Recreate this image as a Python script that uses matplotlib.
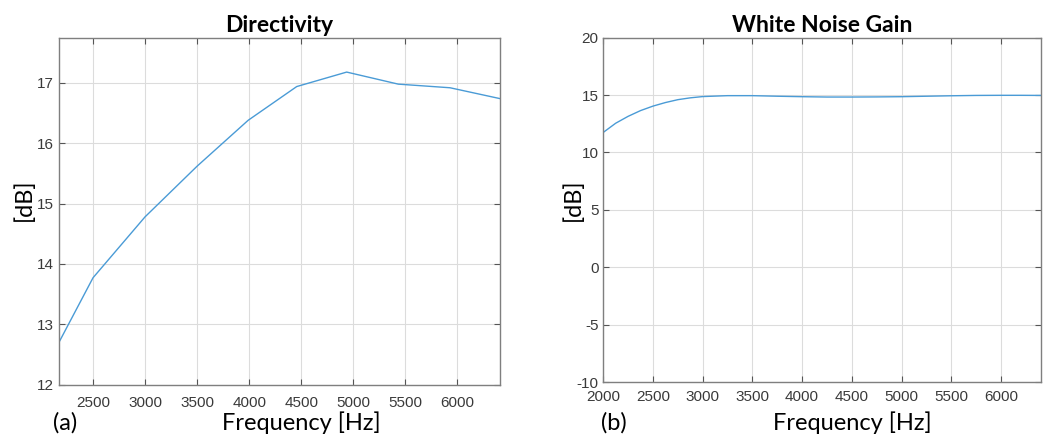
import matplotlib
matplotlib.use("Agg")
import matplotlib.pyplot as plt
import numpy as np

# directivity
freq_dir = [2173, 2500, 3000, 3500, 3990, 4457, 4937, 5433, 5930, 6410]
dir_db = [12.70, 13.77, 14.78, 15.62, 16.38, 16.94, 17.18, 16.98, 16.92, 16.74]

# white noise gain
freq_wng = [2000, 2125, 2250, 2375, 2500, 2625, 2750, 2875, 3000, 3250, 3500,
            3750, 4000, 4250, 4500, 4750, 5000, 5250, 5500, 5750, 6000, 6200, 6400]
wng_db = [11.75, 12.55, 13.15, 13.65, 14.04, 14.35, 14.60, 14.76, 14.87, 14.95, 14.95,
          14.90, 14.86, 14.83, 14.83, 14.84, 14.86, 14.90, 14.94, 14.97, 14.98, 14.98, 14.97]

dir_xticks = [2500, 3000, 3500, 4000, 4500, 5000, 5500, 6000]
wng_xticks = [2000, 2500, 3000, 3500, 4000, 4500, 5000, 5500, 6000]
dir_yticks = [12, 13, 14, 15, 16, 17]
wng_yticks = [-10, -5, 0, 5, 10, 15, 20]

line_col = "#4a9bd6"
tick_col = "#3a3a3a"
W, H = 1046, 436

matplotlib.rcParams['axes.unicode_minus'] = False

fig = plt.figure(figsize=(W / 100, H / 100), dpi=100)

def box(l, t, r, b):
    return [l / W, 1 - b / H, (r - l) / W, (b - t) / H]

def style(ax, xpad):
    ax.grid(True, color="#dcdcdc", linewidth=0.8)
    ax.set_axisbelow(True)
    for s in ax.spines.values():
        s.set_color("#7f7f7f")
        s.set_linewidth(1.0)
    ax.tick_params(direction="in", length=4, color="#555555", labelcolor=tick_col,
                   labelsize=11, top=True, right=True)
    ax.tick_params(axis="x", pad=xpad)
    for lab in ax.get_xticklabels() + ax.get_yticklabels():
        lab.set_fontfamily("Liberation Sans")

ax1 = fig.add_axes(box(59, 37.7, 500, 384.5))
ax1.plot(freq_dir, dir_db, color=line_col, linewidth=1.0)
ax1.set_xlim(2173, 6410)
ax1.set_ylim(12, 17.75)
ax1.set_xticks(dir_xticks)
ax1.set_yticks(dir_yticks)
style(ax1, 8)
ax1.set_title("Directivity", fontsize=16.5, fontweight="bold", family="Lato", pad=4)

ax2 = fig.add_axes(box(603.3, 37.7, 1040.7, 382))
ax2.plot(freq_wng, wng_db, color=line_col, linewidth=1.0)
ax2.set_xlim(2000, 6400)
ax2.set_ylim(-10, 20)
ax2.set_xticks(wng_xticks)
ax2.set_yticks(wng_yticks)
style(ax2, 6)
ax2.set_title("White Noise Gain", fontsize=16.5, fontweight="bold", family="Lato", pad=4)

lab_kw = dict(fontsize=17, family="Lato", color="black")
fig.text(301 / W, 1 - 423 / H, "Frequency [Hz]", ha="center", va="center", **lab_kw)
fig.text(852 / W, 1 - 423 / H, "Frequency [Hz]", ha="center", va="center", **lab_kw)
fig.text(65 / W, 1 - 423 / H, "(a)", ha="center", va="center", **lab_kw)
fig.text(614 / W, 1 - 423 / H, "(b)", ha="center", va="center", **lab_kw)
fig.text(24 / W, 1 - 200 / H, "[dB]", ha="center", va="center", rotation=90, **lab_kw)
fig.text(573 / W, 1 - 200 / H, "[dB]", ha="center", va="center", rotation=90, **lab_kw)

fig.savefig("out.png", dpi=100)
